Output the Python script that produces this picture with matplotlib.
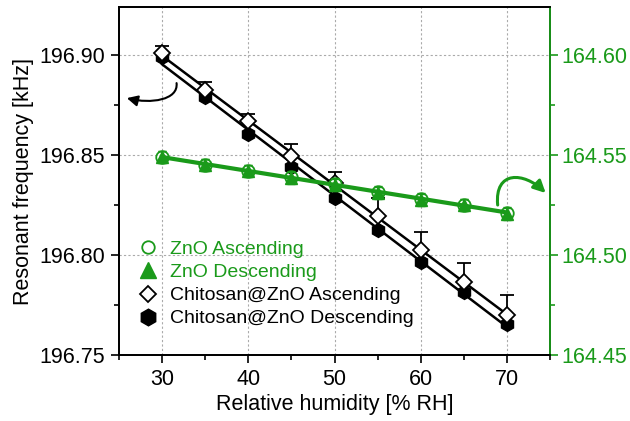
import numpy as np
import matplotlib
matplotlib.use('Agg')
import matplotlib.pyplot as plt
from matplotlib.ticker import MultipleLocator, FormatStrFormatter
from matplotlib.lines import Line2D
from matplotlib.patches import FancyArrowPatch
from matplotlib.path import Path

plt.rcParams['font.family'] = ['Liberation Sans', 'DejaVu Sans']

rh = np.array([30, 35, 40, 45, 50, 55, 60, 65, 70])

# Chitosan@ZnO (left axis)
chi_asc = [196.901, 196.8825, 196.867, 196.8495, 196.836, 196.8195, 196.8025, 196.7867, 196.770]
chi_asc_err = [0.0035, 0.004, 0.0035, 0.006, 0.0055, 0.009, 0.009, 0.0095, 0.010]
chi_desc = [196.899, 196.879, 196.8605, 196.8442, 196.8283, 196.8125, 196.7967, 196.7817, 196.7655]

# ZnO (right axis)
zno_asc = [164.549, 164.545, 164.5422, 164.5388, 164.5355, 164.5315, 164.528, 164.525, 164.521]
zno_desc = [164.549, 164.5448, 164.542, 164.5385, 164.5352, 164.5310, 164.5276, 164.5248, 164.5206]
zno_err = [0.003, 0.003, 0.003, 0.003, 0.003, 0.003, 0.003, 0.003, 0.003]

green = '#1a9a1a'
fs = 15.5

fig, ax = plt.subplots(figsize=(6.3, 4.21), dpi=100)
fig.subplots_adjust(left=0.189, right=0.873, top=0.983, bottom=0.157)
ax2 = ax.twinx()

# black fit lines
for ys in (chi_asc, chi_desc):
    p = np.polyfit(rh, ys, 1)
    ax.plot(rh, np.polyval(p, rh), color='black', lw=1.8, zorder=2)

ax.errorbar(rh, chi_asc, yerr=[np.zeros(len(rh)), chi_asc_err], fmt='none',
            ecolor='black', elinewidth=1.3, capsize=5, capthick=1.3, zorder=3)
ax.plot(rh, chi_desc, linestyle='none', marker='h', ms=10, color='black', zorder=4)
ax.plot(rh, chi_asc, linestyle='none', marker='D', ms=8, mfc='white', mec='black',
        mew=1.3, zorder=5)

# green ZnO
p = np.polyfit(rh, zno_asc, 1)
ax2.plot(rh, np.polyval(p, rh), color=green, lw=3, zorder=2)
ax2.errorbar(rh, zno_desc, yerr=zno_err, fmt='none', ecolor=green, elinewidth=1.3,
             capsize=3, zorder=3)
ax2.errorbar(rh, zno_asc, yerr=zno_err, fmt='none', ecolor=green, elinewidth=1.3,
             capsize=3, zorder=3)
ax2.plot(rh, zno_desc, linestyle='none', marker='^', ms=9, color=green, zorder=4)
ax2.plot(rh, zno_asc, linestyle='none', marker='o', ms=9, mfc='none', mec=green,
         mew=1.3, zorder=5)

ax.set_xlim(25, 75)
ax.set_ylim(196.75, 196.924)
ax2.set_ylim(164.45, 164.624)

ax.xaxis.set_major_locator(MultipleLocator(10))
ax.xaxis.set_minor_locator(MultipleLocator(5))
ax.yaxis.set_major_locator(MultipleLocator(0.05))
ax.yaxis.set_minor_locator(MultipleLocator(0.025))
ax.yaxis.set_major_formatter(FormatStrFormatter('%.2f'))
ax2.yaxis.set_major_locator(MultipleLocator(0.05))
ax2.yaxis.set_minor_locator(MultipleLocator(0.025))
ax2.yaxis.set_major_formatter(FormatStrFormatter('%.2f'))

ax.grid(True, which='major', color='#aaaaaa', linestyle=(0, (2, 2)), lw=0.8)
ax.set_axisbelow(True)

for a in (ax, ax2):
    a.tick_params(which='major', direction='out', length=6, width=1.2, labelsize=fs, pad=4)
    a.tick_params(which='minor', direction='out', length=3.5, width=1.2)
    for s in a.spines.values():
        s.set_linewidth(1.3)

ax.tick_params(axis='y', which='both', right=False)
ax2.tick_params(axis='y', which='both', colors=green)
ax2.tick_params(axis='y', which='major', pad=2)
ax2.spines['right'].set_color(green)

ax.set_xlabel('Relative humidity [% RH]', fontsize=fs, labelpad=3)
ax.set_ylabel('Resonant frequency [kHz]', fontsize=fs, labelpad=4)

# curved arrows (hook shapes pointing at each axis)
black_arrow = Path([(31.67, 196.886), (31.9, 196.8775), (28.66, 196.8755), (25.9, 196.8785)],
                   [Path.MOVETO, Path.CURVE4, Path.CURVE4, Path.CURVE4])
ax.add_patch(FancyArrowPatch(path=black_arrow, arrowstyle='-|>', color='black', lw=1.5,
                             mutation_scale=16, zorder=6))
green_arrow = Path([(68.93, 164.525), (68.55, 164.5425), (72.0, 164.5415), (74.5, 164.531)],
                   [Path.MOVETO, Path.CURVE4, Path.CURVE4, Path.CURVE4])
ax2.add_patch(FancyArrowPatch(path=green_arrow, arrowstyle='-|>', color=green, lw=2.2,
                              mutation_scale=18, zorder=6))

# legend
handles = [
    Line2D([], [], linestyle='none', marker='o', ms=9, mfc='none', mec=green, mew=1.3),
    Line2D([], [], linestyle='none', marker='^', ms=11, color=green),
    Line2D([], [], linestyle='none', marker='D', ms=8, mfc='white', mec='black', mew=1.3),
    Line2D([], [], linestyle='none', marker='h', ms=12, color='black'),
]
labels = ['ZnO Ascending', 'ZnO Descending', 'Chitosan@ZnO Ascending',
          'Chitosan@ZnO Descending']
leg = ax.legend(handles, labels, loc='lower left', bbox_to_anchor=(0.0, 0.04),
                frameon=False, fontsize=14, handletextpad=0.3, labelspacing=0.28,
                borderaxespad=0.3, handlelength=1.6)
for t, c in zip(leg.get_texts(), [green, green, 'black', 'black']):
    t.set_color(c)

fig.savefig('out.png', dpi=100)
